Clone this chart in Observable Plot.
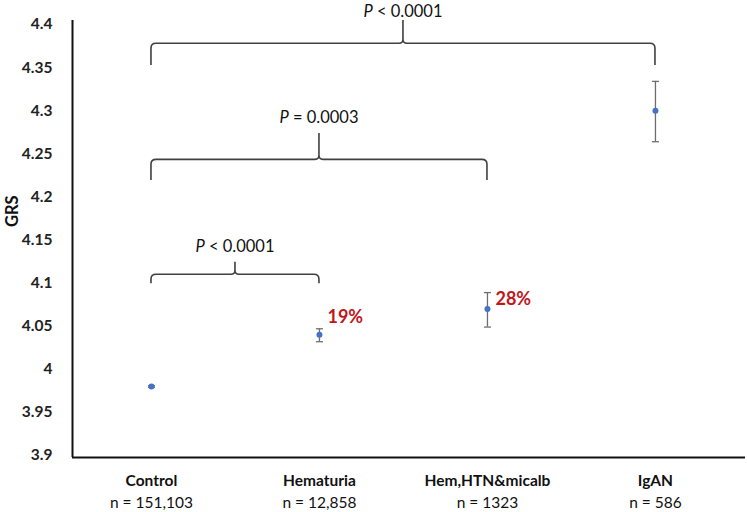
<!DOCTYPE html>
<html>
<head>
<meta charset="utf-8">
<script src="https://cdn.jsdelivr.net/npm/d3@7"></script>
<script src="https://cdn.jsdelivr.net/npm/@observablehq/plot@0.6"></script>
<style>
  html, body { margin: 0; padding: 0; background: #fff; }
  #chart { width: 747px; height: 512px; }
  #chart svg { overflow: visible; }
</style>
</head>
<body>
<div id="chart"></div>
<script>
// ---- data ----
const categories = ["Control", "Hematuria", "Hem,HTN&micalb", "IgAN"];
const sampleSizes = ["n = 151,103", "n = 12,858", "n = 1323", "n = 586"];
const grsMean = [3.98, 4.04, 4.07, 4.30];
const grsLower = [3.979, 4.032, 4.049, 4.264];
const grsUpper = [3.981, 4.047, 4.089, 4.334];
const pctText = ["", "19%", "28%", ""];
const pctY = [null, 4.060, 4.081, null];
const yTicks = [3.9, 3.95, 4.0, 4.05, 4.1, 4.15, 4.2, 4.25, 4.3, 4.35, 4.4];

// comparison braces (from group index, to group index)
const braceFrom = [0, 0, 0];
const braceTo = [1, 2, 3];
const braceBar = [4.1096, 4.243, 4.3776];
const braceTip = [4.0992, 4.219, 4.3524];
const braceCusp = [4.1243, 4.2736, 4.4046];
const braceLabelY = [4.1417, 4.292, 4.4145];
const braceP = [" < 0.0001", " = 0.0003", " < 0.0001"];

const groups = categories.map((c, i) => ({
  i, c, n: sampleSizes[i], mean: grsMean[i], lo: grsLower[i], hi: grsUpper[i],
  pct: pctText[i], pctY: pctY[i]
}));
const braces = braceFrom.map((f, k) => ({
  from: f, to: braceTo[k], bar: braceBar[k], tip: braceTip[k], cusp: braceCusp[k],
  ly: braceLabelY[k], p: braceP[k]
}));

const FONT = "Lato, 'Open Sans', sans-serif";

const capSymbol = {
  draw(ctx, size) {
    const w = 3.5;
    ctx.moveTo(-w, 0); ctx.lineTo(w, 0);
  }
};

function braceMark(index, scales) {
  const g = d3.create("svg:g");
  for (const b of braces) {
    const x0 = scales.x(b.from), x1 = scales.x(b.to), xm = (x0 + x1) / 2;
    const yb = scales.y(b.bar), yt = scales.y(b.tip), yc = scales.y(b.cusp);
    const r = 5, c = 4;
    const d = [
      `M${x0},${yt}`, `L${x0},${yb + r}`, `Q${x0},${yb} ${x0 + r},${yb}`,
      `L${xm - c},${yb}`, `Q${xm},${yb} ${xm},${yb - c}`, `L${xm},${yc}`,
      `L${xm},${yb - c}`, `Q${xm},${yb} ${xm + c},${yb}`,
      `L${x1 - r},${yb}`, `Q${x1},${yb} ${x1},${yb + r}`, `L${x1},${yt}`
    ].join("");
    g.append("path").attr("d", d).attr("fill", "none")
      .attr("stroke", "#404040").attr("stroke-width", 1.6);
    const t = g.append("text")
      .attr("x", xm).attr("y", scales.y(b.ly)).attr("dy", "0.35em")
      .attr("text-anchor", "middle")
      .attr("font-family", FONT).attr("font-size", 16.5).attr("fill", "#111");
    t.append("tspan").attr("font-style", "italic").text("P");
    t.append("tspan").text(b.p);
  }
  return g.node();
}

const chart = Plot.plot({
  width: 747,
  height: 512,
  marginLeft: 72,
  marginRight: 2,
  marginTop: 20,
  marginBottom: 55,
  style: { fontFamily: FONT, background: "#fff", color: "#111", overflow: "visible" },
  x: { type: "linear", domain: [-0.47, 3.536], axis: null },
  y: { domain: [3.9, 4.4], insetTop: 4, insetBottom: 2 },
  marks: [
    Plot.axisY({
      ticks: yTicks, tickSize: 0, tickPadding: 20, label: null,
      tickFormat: d => String(+d.toFixed(2)),
      fontWeight: "bold", fontSize: 15.5, fill: "#222"
    }),
    Plot.ruleX([0], { x: () => -0.47, y1: 3.8977, y2: 4.4046, stroke: "#111", strokeWidth: 2 }),
    Plot.ruleY([3.9], { dy: 2, stroke: "#111", strokeWidth: 2 }),
    Plot.text(["GRS"], { frameAnchor: "left", rotate: -90, dx: -60, dy: -12,
      fontWeight: "bold", fontSize: 16.5, fill: "#111" }),
    braceMark,
    Plot.ruleX(groups, { x: "i", y1: "lo", y2: "hi", stroke: "#6e6e6e", strokeWidth: 1.3 }),
    Plot.dot(groups, { x: "i", y: "lo", symbol: capSymbol, stroke: "#6e6e6e", strokeWidth: 1.3 }),
    Plot.dot(groups, { x: "i", y: "hi", symbol: capSymbol, stroke: "#6e6e6e", strokeWidth: 1.3 }),
    Plot.dot(groups, { x: "i", y: "mean", r: 3, fill: "#4472C4", stroke: null }),
    Plot.text(groups.filter(d => d.pct), { x: "i", y: "pctY", text: "pct", textAnchor: "start",
      dx: 8, fontWeight: "bold", fontSize: 18, fill: "#C0161C" }),
    Plot.text(groups, { x: "i", y: () => 3.9, text: "c", dy: 26, fontWeight: "bold", fontSize: 15.5, fill: "#111" }),
    Plot.text(groups, { x: "i", y: () => 3.9, text: "n", dy: 48, fontSize: 15.5, fill: "#111" })
  ]
});
document.getElementById("chart").append(chart);
</script>
</body>
</html>
